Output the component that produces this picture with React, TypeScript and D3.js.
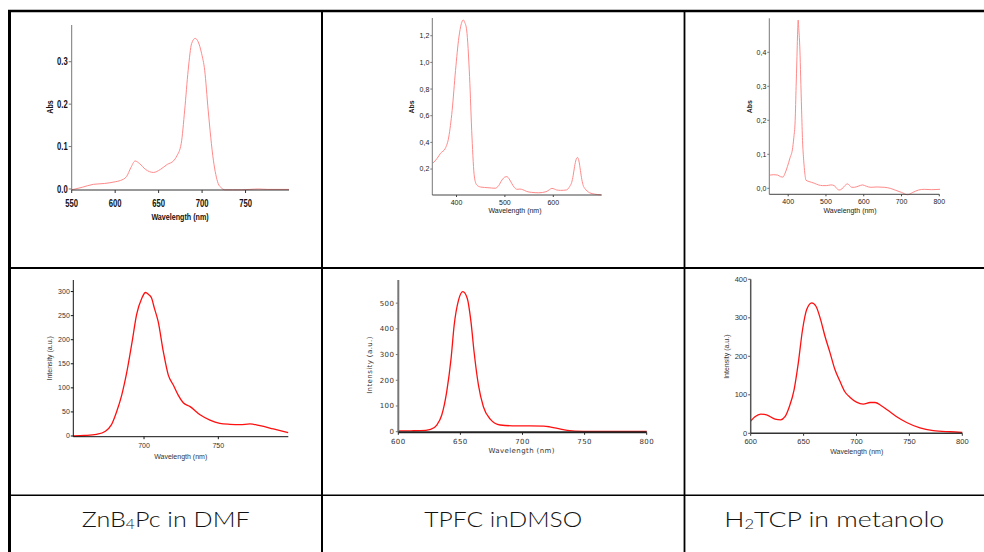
import React from 'react';
import * as d3 from 'd3';

// ---------- data ----------
const znAbsNm = [550, 562, 575, 588, 600, 606, 613, 618, 623, 628, 635, 644, 652, 660, 667, 671, 676, 680, 684, 688, 692, 695.5, 699.5, 703, 707, 713, 718.5, 722, 726, 735, 745, 755, 765, 775, 800];
const znAbsVal = [-0.002, 0.004, 0.011, 0.013, 0.017, 0.02, 0.029, 0.05, 0.066, 0.06, 0.046, 0.039, 0.046, 0.058, 0.066, 0.078, 0.107, 0.186, 0.28, 0.343, 0.355, 0.347, 0.319, 0.28, 0.186, 0.068, 0.013, 0.003, -0.002, -0.002, -0.002, -0.001, 0.0, -0.001, -0.001];

const tpfcAbsNm = [351, 360, 367, 377, 384, 391, 398, 405, 410, 414, 417, 421, 427, 432, 437, 442, 450, 465, 480, 487, 494, 500, 504, 509, 514, 520, 525, 531, 537, 545, 555, 570, 585, 592, 597, 602, 607, 615, 627, 634, 638, 641, 644, 647, 650, 653, 656, 659, 662, 665, 670, 675, 685, 699];
const tpfcAbsVal = [0.243, 0.28, 0.318, 0.356, 0.44, 0.64, 0.94, 1.19, 1.29, 1.318, 1.3, 1.243, 0.893, 0.44, 0.14, 0.08, 0.065, 0.06, 0.056, 0.075, 0.118, 0.14, 0.143, 0.125, 0.093, 0.06, 0.048, 0.05, 0.045, 0.032, 0.025, 0.022, 0.03, 0.045, 0.055, 0.05, 0.043, 0.04, 0.043, 0.07, 0.1, 0.15, 0.22, 0.27, 0.287, 0.26, 0.19, 0.12, 0.075, 0.055, 0.035, 0.022, 0.012, 0.006];

const h2AbsNm = [352, 362, 372, 380, 386, 392, 398, 405, 411, 415, 418.5, 421, 423, 425, 426.5, 428, 431, 433, 435.5, 438, 441, 444, 447, 455, 469, 480, 491, 502, 513, 522, 528, 535, 542, 550, 557, 563, 568, 575, 585, 597, 607, 619, 635, 654, 670, 685, 700, 716, 730, 745, 760, 780, 802];
const h2AbsVal = [0.039, 0.04, 0.039, 0.034, 0.033, 0.045, 0.064, 0.09, 0.113, 0.15, 0.2, 0.3, 0.377, 0.46, 0.495, 0.47, 0.407, 0.33, 0.23, 0.14, 0.083, 0.045, 0.024, 0.02, 0.015, 0.01, 0.008, 0.008, 0.01, 0.008, 0.0, -0.005, -0.002, 0.008, 0.013, 0.008, 0.003, 0.003, 0.006, 0.01, 0.006, 0.003, 0.004, 0.003, 0.0, -0.006, -0.012, -0.019, -0.012, -0.005, -0.003, -0.004, -0.003];

const znEmNm = [652.5, 660, 668, 674, 678, 681.5, 685, 688.5, 692, 695, 698.5, 701, 703, 705, 707, 709.5, 713, 716.3, 719.7, 723, 726.4, 731, 737.7, 744.4, 751, 757.8, 764.6, 771.3, 778, 787, 797];
const znEmVal = [0, 1, 3.5, 10, 23, 50, 85, 134, 196, 252, 286, 298, 294, 287, 265, 238, 175, 127, 106, 85, 69, 61, 44, 33, 26.4, 24.3, 23.5, 25, 21.4, 14.6, 7];

const tpfcEmNm = [600, 610, 618, 626, 631, 635, 639, 642.5, 645, 648.5, 652, 655.5, 658.5, 661, 664.5, 668.5, 674, 682, 692, 706, 717, 722, 728, 736, 749, 770, 800];
const tpfcEmVal = [3, 3.5, 4, 9, 26, 65, 156, 285, 415, 512, 545, 519, 428, 311, 182, 97, 49, 26, 23, 23, 22, 19, 13, 5, 1.5, 1, 1];

const h2EmNm = [600, 604, 609.5, 615, 623, 628.3, 632.4, 636.5, 641, 645, 649, 653, 657.7, 661.7, 666, 670.2, 675, 679.7, 684.4, 689, 694, 700, 706.4, 712.8, 717.5, 723.8, 730, 738, 747.4, 760, 772.6, 788.4, 800];
const h2EmVal = [32, 43, 50, 48, 37, 35, 43, 69, 113, 183, 269, 322, 339, 330, 296, 252, 209, 165, 135, 108, 93, 81, 76, 80, 80, 71, 59, 43, 28, 14, 7, 4, 2.6];

const znAbsXTicks = [550, 600, 650, 700, 750];
const znAbsYTicks = [0, 0.1, 0.2, 0.3];
const tpfcAbsXTicks = [400, 500, 600];
const tpfcAbsYTicks = [0.2, 0.4, 0.6, 0.8, 1.0, 1.2];
const h2AbsXTicks = [400, 500, 600, 700, 800];
const h2AbsYTicks = [0, 0.1, 0.2, 0.3, 0.4];
const znEmXTicks = [700, 750];
const znEmYTicks = [0, 50, 100, 150, 200, 250, 300];
const tpfcEmXTicks = [600, 650, 700, 750, 800];
const tpfcEmYTicks = [0, 100, 200, 300, 400, 500];
const h2EmXTicks = [600, 650, 700, 750, 800];
const h2EmYTicks = [0, 100, 200, 300, 400];

const sampleLabels = ['ZnB4Pc in DMF', 'TPFC inDMSO', 'H2TCP in metanolo'];

// ---------- helpers ----------
const dotFmt = (v: number) => v.toFixed(1);
const commaFmt = (v: number) => v.toFixed(1).replace('.', ',');
const intFmt = (v: number) => String(Math.round(v));

const ARIAL = '"Liberation Sans", Arial, sans-serif';
const VERDANA = '"DejaVu Sans", Verdana, sans-serif';

type Cfg = {
  xs: number[]; ys: number[];
  xDomain: [number, number]; yDomain: [number, number];
  left: number; right: number; top: number; bottom: number;
  yBottomAt?: number;
  xTicks: number[]; yTicks: number[]; yFmt: (v: number) => string;
  font: string; size: number; weight: string | number; color: string;
  tickLen: number; xLabelDy: number; yLabelGap: number;
  xAxisColor: string; yAxisColor: string; axisWidth: number;
  xTitle: string; xTitlePos: [number, number]; titleSize: number; titleWeight: string | number;
  yTitle: string; yTitlePos: [number, number]; yTitleWeight: string | number;
  lineColor: string; lineWidth: number; letterSpacing?: number; sx?: number;
};

function T({ x, y, sx, rot, anchor, size, weight, fill, ls, dy, children }: any) {
  const tr = `translate(${x},${y})${rot ? ` rotate(${rot})` : ''} scale(${sx ?? 1},1)`;
  return (
    <text transform={tr} textAnchor={anchor} dy={dy} fontSize={size} fontWeight={weight} fill={fill} letterSpacing={ls}>{children}</text>
  );
}

function Panel({ c }: { c: Cfg }) {
  const x = d3.scaleLinear().domain(c.xDomain).range([c.left, c.right]);
  const y = d3.scaleLinear().domain(c.yDomain).range([c.yBottomAt ?? c.bottom, c.top]);
  const pts: [number, number][] = c.xs.map((v, i) => [v, c.ys[i]]);
  const path = d3.line<[number, number]>().x(d => x(d[0])).y(d => y(d[1])).curve(d3.curveMonotoneX)(pts) || '';
  const ls = c.letterSpacing ?? 0;
  const sx = c.sx ?? 1;
  return (
    <g fontFamily={c.font}>
      <path d={path} fill="none" stroke={c.lineColor} strokeWidth={c.lineWidth} strokeLinejoin="round" />
      <line x1={c.left} x2={c.left} y1={c.bottom} y2={c.top} stroke={c.yAxisColor} strokeWidth={c.axisWidth} />
      <line x1={c.left} x2={c.right} y1={c.bottom} y2={c.bottom} stroke={c.xAxisColor} strokeWidth={c.axisWidth} />
      {c.xTicks.map(t => (
        <g key={'x' + t}>
          <line x1={x(t)} x2={x(t)} y1={c.bottom} y2={c.bottom + c.tickLen} stroke={c.xAxisColor} strokeWidth={1} />
          <T x={x(t)} y={c.bottom + c.xLabelDy} sx={sx} anchor="middle" size={c.size} weight={c.weight} fill={c.color} ls={ls}>{t}</T>
        </g>
      ))}
      {c.yTicks.map(t => (
        <g key={'y' + t}>
          <line x1={c.left - c.tickLen} x2={c.left} y1={y(t)} y2={y(t)} stroke={c.yAxisColor} strokeWidth={1} />
          <T x={c.left - c.tickLen - c.yLabelGap} y={y(t)} dy="0.35em" sx={sx} anchor="end" size={c.size} weight={c.weight} fill={c.color} ls={ls}>{c.yFmt(t)}</T>
        </g>
      ))}
      <T x={c.xTitlePos[0]} y={c.xTitlePos[1]} sx={sx} anchor="middle" size={c.titleSize} weight={c.titleWeight} fill={c.color} ls={ls}>{c.xTitle}</T>
      <T x={c.yTitlePos[0]} y={c.yTitlePos[1]} rot={-90} dy="0.35em" sx={sx} anchor="middle" size={c.titleSize} weight={c.yTitleWeight} fill={c.color} ls={ls}>{c.yTitle}</T>
    </g>
  );
}

const ABS_RED = '#ff8a8a';
const EM_RED = '#ff1010';

const panels: Cfg[] = [
  {
    xs: znAbsNm, ys: znAbsVal, xDomain: [550, 800], yDomain: [-0.0024, 0.3866],
    left: 71.7, right: 289, top: 25, bottom: 190,
    xTicks: znAbsXTicks, yTicks: znAbsYTicks, yFmt: dotFmt,
    font: ARIAL, size: 10.5, weight: 'bold', color: '#111',
    tickLen: 3, xLabelDy: 16.5, yLabelGap: 1,
    xAxisColor: '#333', yAxisColor: '#777', axisWidth: 1,
    xTitle: 'Wavelength (nm)', xTitlePos: [180, 219.5], titleSize: 9.8, titleWeight: 'bold',
    yTitle: 'Abs', yTitlePos: [50, 107], yTitleWeight: 'bold',
    lineColor: ABS_RED, lineWidth: 1, sx: 0.73,
  },
  {
    xs: tpfcAbsNm, ys: tpfcAbsVal, xDomain: [350, 700], yDomain: [0, 1.333],
    left: 432.3, right: 601.7, top: 18, bottom: 195, yBottomAt: 195.7,
    xTicks: tpfcAbsXTicks, yTicks: tpfcAbsYTicks, yFmt: commaFmt,
    font: ARIAL, size: 7, weight: 'normal', color: '#222',
    tickLen: 2, xLabelDy: 9.5, yLabelGap: 1,
    xAxisColor: '#444', yAxisColor: '#777', axisWidth: 1,
    xTitle: 'Wavelength (nm)', xTitlePos: [515, 212.5], titleSize: 7, titleWeight: 'normal',
    yTitle: 'Abs', yTitlePos: [411.7, 107], yTitleWeight: 'bold',
    lineColor: ABS_RED, lineWidth: 1,
  },
  {
    xs: h2AbsNm, ys: h2AbsVal, xDomain: [350, 800], yDomain: [-0.0176, 0.5],
    left: 769.3, right: 939.3, top: 18.3, bottom: 194.3,
    xTicks: h2AbsXTicks, yTicks: h2AbsYTicks, yFmt: commaFmt,
    font: ARIAL, size: 7, weight: 'normal', color: '#222',
    tickLen: 2, xLabelDy: 9.5, yLabelGap: 1,
    xAxisColor: '#444', yAxisColor: '#777', axisWidth: 1,
    xTitle: 'Wavelength (nm)', xTitlePos: [850, 212.5], titleSize: 7, titleWeight: 'normal',
    yTitle: 'Abs', yTitlePos: [749.3, 106.7], yTitleWeight: 'bold',
    lineColor: ABS_RED, lineWidth: 1,
  },
  {
    xs: znEmNm, ys: znEmVal, xDomain: [652.4, 797.1], yDomain: [0, 324],
    left: 73.3, right: 288.3, top: 280, bottom: 436.7, yBottomAt: 436,
    xTicks: znEmXTicks, yTicks: znEmYTicks, yFmt: intFmt,
    font: ARIAL, size: 7, weight: 'normal', color: '#333',
    tickLen: 2.5, xLabelDy: 11, yLabelGap: 1,
    xAxisColor: '#111', yAxisColor: '#111', axisWidth: 1,
    xTitle: 'Wavelength (nm)', xTitlePos: [180.7, 458.5], titleSize: 7, titleWeight: 'normal',
    yTitle: 'Intensity (a.u.)', yTitlePos: [50, 358.3], yTitleWeight: 'normal',
    lineColor: EM_RED, lineWidth: 1.3,
  },
  {
    xs: tpfcEmNm, ys: tpfcEmVal, xDomain: [600, 800], yDomain: [0, 590],
    left: 398.3, right: 646.7, top: 280, bottom: 432.3, yBottomAt: 431.7,
    xTicks: tpfcEmXTicks, yTicks: tpfcEmYTicks, yFmt: intFmt,
    font: VERDANA, size: 7, weight: 'normal', color: '#333',
    tickLen: 2.5, xLabelDy: 12, yLabelGap: 1.5,
    xAxisColor: '#222', yAxisColor: '#777', axisWidth: 2,
    xTitle: 'Wavelength (nm)', xTitlePos: [521.7, 452.5], titleSize: 7, titleWeight: 'normal',
    yTitle: 'Intensity (a.u.)', yTitlePos: [369.3, 365], yTitleWeight: 'normal',
    lineColor: EM_RED, lineWidth: 1.3, letterSpacing: 0.4,
  },
  {
    xs: h2EmNm, ys: h2EmVal, xDomain: [600, 800], yDomain: [0, 400],
    left: 750.7, right: 962.3, top: 279.3, bottom: 433.3,
    xTicks: h2EmXTicks, yTicks: h2EmYTicks, yFmt: intFmt,
    font: ARIAL, size: 7.5, weight: 'normal', color: '#333',
    tickLen: 2.5, xLabelDy: 11, yLabelGap: 1,
    xAxisColor: '#333', yAxisColor: '#555', axisWidth: 1.5,
    xTitle: 'Wavelength (nm)', xTitlePos: [856.7, 454], titleSize: 7, titleWeight: 'normal',
    yTitle: 'Intensity (a.u.)', yTitlePos: [726.7, 356.7], yTitleWeight: 'normal',
    lineColor: EM_RED, lineWidth: 1.3,
  },
];

const labelWidths = [168, 158, 220];

function Label({ text, x, w }: { text: string; x: number; w: number }) {
  // digit right after the leading letters is rendered as a subscript
  const m = text.match(/^([A-Za-z]+)(\d)(.*)$/);
  const font = 'Lato, "Open Sans", sans-serif';
  const common = {
    x, y: 527, textAnchor: 'middle' as const, fontFamily: font, fontWeight: 300, fontSize: 21, fill: '#111',
    textLength: w, lengthAdjust: 'spacingAndGlyphs' as const,
  };
  if (m) {
    return (
      <text {...common}>
        {m[1]}<tspan fontSize={13} dy={2}>{m[2]}</tspan><tspan dy={-2}>{m[3]}</tspan>
      </text>
    );
  }
  return <text {...common}>{text}</text>;
}

export default function App() {
  const W = 984, H = 552;
  const colX = [9.5, 322, 684.5, 984];
  return (
    <svg width={W} height={H} style={{ position: 'absolute', left: 0, top: 0, background: '#fff' }}>
      <rect x={0} y={0} width={W} height={H} fill="#fff" />
      {/* table grid */}
      <line x1={8} x2={984} y1={11} y2={11} stroke="#000" strokeWidth={2.5} />
      <line x1={9.5} x2={9.5} y1={10} y2={552} stroke="#000" strokeWidth={3} />
      <line x1={322} x2={322} y1={10} y2={552} stroke="#000" strokeWidth={2} />
      <line x1={684.5} x2={684.5} y1={10} y2={552} stroke="#000" strokeWidth={1.8} />
      <line x1={8} x2={984} y1={268} y2={268} stroke="#000" strokeWidth={2} />
      <line x1={8} x2={984} y1={495.3} y2={495.3} stroke="#000" strokeWidth={1.6} />
      {panels.map((p, i) => <Panel key={i} c={p} />)}
      {sampleLabels.map((t, i) => (
        <Label key={t} text={t} w={labelWidths[i]} x={(colX[i] + colX[i + 1]) / 2} />
      ))}
    </svg>
  );
}
